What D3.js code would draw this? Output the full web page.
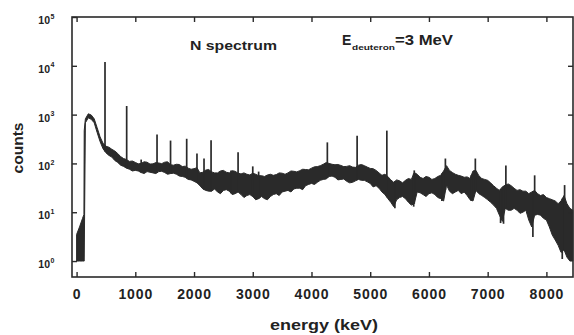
<!DOCTYPE html>
<html>
<head>
<meta charset="utf-8">
<script src="https://cdn.jsdelivr.net/npm/d3@7"></script>
<style>
body{margin:0;background:#fff}
svg{display:block}
text{font-family:"Liberation Sans",Arial,sans-serif;font-weight:bold;fill:#222}
</style>
</head>
<body>
<div id="chart"></div>
<script>
// continuum of the spectrum (keV, counts)
var energy = [0,50,100,125,130,150,200,250,300,350,400,450,500,550,600,
    650,700,750,800,850,900,950,1000,
    1050,1100,1150,1200,1250,1300,1350,1400,1450,1500,1550,1600,1650,1700,1750,1800,1850,1900,1950,2000,
    2050,2100,2150,2200,2250,2300,2350,2400,2450,2500,2550,2600,2650,2700,2750,2800,2850,2900,2950,3000,
    3050,3100,3150,3200,3250,3300,3350,3400,3450,3500,3550,3600,3650,3700,3750,3800,3850,3900,3950,4000,
    4050,4100,4150,4200,4250,4300,4350,4400,4450,4500,4550,4600,4650,4700,4750,4800,4850,4900,4950,5000,
    5050,5100,5150,5200,5250,5300,5350,5400,5450,5500,5550,5600,5650,5700,5750,5800,5850,5900,5950,6000,
    6050,6100,6150,6200,6250,6300,6350,6400,6450,6500,6550,6600,6650,6700,6750,6800,6850,6900,6950,7000,
    7050,7100,7150,7200,7250,7300,7350,7400,7450,7500,7550,7600,7650,7700,7750,7800,7850,7900,7950,8000,
    8050,8100,8150,8200,8250,8300,8350,8400,8450]
// upper and lower edge of the noisy band
var bandHigh = [3.5,5,7.4,9,470,820,1040,980,820,540,350,260,225,215,195,
    180,160,138,126,120,110,112,105,
    98,100,108,106,97,98,104,102,99,106,108,94,92,96,95,86,88,80,76,78,
    82,64,66,73,75,67,64,64,70,72,66,64,71,69,63,61,64,60,58,63,
    60,56,56,54,58,60,57,59,64,63,60,64,70,69,67,71,76,75,74,80,
    85,86,90,96,104,100,96,94,95,91,86,87,90,84,83,92,95,90,84,79,
    78,72,64,57,60,54,46,41,46,44,40,45,49,47,65,60,52,49,54,52,
    47,49,54,57,70,90,72,65,60,57,55,52,53,49,70,72,56,49,47,45,
    40,35,31,28,33,36,38,35,31,28,29,27,27,24,26,28,24,22,23,20,
    19,18,17,15,17,22,15,12,11]
var bandLow = [1,1,1,1,1,680,860,800,680,430,280,200,165,146,135,
    115,105,92,87,80,76,70,72,
    70,65,62,68,66,64,62,68,69,65,60,62,63,60,55,54,52,47,46,43,
    40,35,30,28,27,27,30,26,24,28,29,27,23,24,26,23,20,22,23,21,
    18,19,21,19,18,21,23,24,22,26,27,28,26,30,31,31,29,35,37,39,
    37,41,45,47,48,54,55,52,46,47,48,43,40,41,44,47,45,45,42,39,
    33,35,31,26,23,19,16,13,18,20,21,19,16,14,15,26,25,23,21,24,
    25,23,20,19,17,36,27,24,26,28,24,26,22,18,17,28,24,22,20,18,
    16,14,12,8.7,6.5,12,11,11,12,11,9.5,10,11,6.9,5,8.7,9,8.7,7.5,6.9,
    5,3.4,2.7,2.1,1.5,1.7,1.2,1,1]

// gamma lines sticking out of the continuum
var peakEnergy = [484,853,1100,1370,1600,1875,2050,2170,2290,2630,2750,3000,3100,4270,4777,5283,5750,6280,6790,7310,7800,8310]
var peakTop = [12000,1500,120,390,294,320,160,126,300,72,170,87,68,270,370,470,72,126,126,91,57,36]

// narrow dips below the band
var dipEnergy = [5420,5740,6220,6720,7220,7270,7770,8270]
var dipBottom = [12,13,17,17,6,5.8,3.1,1.1]

var xTicks = [0,1000,2000,3000,4000,5000,6000,7000,8000]
var yTicks = [1,10,100,1000,10000,100000]

var width = 574, height = 335
var ink = '#2a2a2a'

var svg = d3.select('#chart')
    .append('svg')
    .attr('width', width)
    .attr('height', height)

var x = d3.scaleLinear().domain([-78, 8453]).range([72, 573])
var y = d3.scaleLog().domain([Math.pow(10, -0.327), 1e5]).range([277, 17])

// edges at any energy, used as foot of peaks and dips
var lowAt = d3.scaleLinear().domain(energy).range(bandLow)
var highAt = d3.scaleLinear().domain(energy).range(bandHigh)

var band = energy.map(function(e, i){ return {e: e, hi: bandHigh[i], lo: bandLow[i]} })

var area = d3.area()
    .x(function(d){ return x(d.e) })
    .y0(function(d){ return y(d.lo) })
    .y1(function(d){ return y(d.hi) })

svg.append('path')
    .datum(band)
    .attr('d', area)
    .attr('fill', ink)
    .attr('stroke', ink)
    .attr('stroke-width', 1)

svg.selectAll('line.peak')
    .data(peakEnergy)
    .enter()
    .append('line')
    .attr('class', 'peak')
    .attr('x1', function(d){ return x(d) })
    .attr('x2', function(d){ return x(d) })
    .attr('y1', function(d){ return y(lowAt(d)) })
    .attr('y2', function(d, i){ return y(peakTop[i]) })
    .attr('stroke', ink)
    .attr('stroke-width', 1.7)

svg.selectAll('line.dip')
    .data(dipEnergy)
    .enter()
    .append('line')
    .attr('class', 'dip')
    .attr('x1', function(d){ return x(d) })
    .attr('x2', function(d){ return x(d) })
    .attr('y1', function(d){ return y(highAt(d)) })
    .attr('y2', function(d, i){ return y(dipBottom[i]) })
    .attr('stroke', ink)
    .attr('stroke-width', 1.7)

// axes, ticks all point inward
var bottomAxis = svg.append('g')
    .attr('transform', 'translate(0,277)')
    .call(d3.axisBottom(x).tickValues(xTicks).tickSize(-5).tickPadding(12).tickFormat(d3.format('d')))
bottomAxis.select('.domain').remove()
bottomAxis.selectAll('text')
    .style('font-size', '14px')
    .style('letter-spacing', '0.9px')

var topAxis = svg.append('g')
    .attr('transform', 'translate(0,17)')
    .call(d3.axisTop(x).tickValues(xTicks).tickSize(-5).tickFormat(''))
topAxis.select('.domain').remove()

var leftAxis = svg.append('g')
    .attr('transform', 'translate(72,0)')
    .call(d3.axisLeft(y).tickValues(yTicks).tickSize(-5).tickFormat(''))
leftAxis.select('.domain').remove()

var rightAxis = svg.append('g')
    .attr('transform', 'translate(573,0)')
    .call(d3.axisRight(y).tickValues(yTicks.slice(1, 5)).tickSize(-5).tickFormat(''))
rightAxis.select('.domain').remove()

svg.selectAll('.tick line')
    .attr('stroke', ink)
    .attr('stroke-width', 1.4)

svg.append('rect')
    .attr('x', 72)
    .attr('y', 17)
    .attr('width', 501)
    .attr('height', 260)
    .attr('fill', 'none')
    .attr('stroke', ink)
    .attr('stroke-width', 1.6)

// power of ten labels
yTicks.forEach(function(v){
    svg.append('text')
        .attr('x', 50)
        .attr('y', y(v) + 7)
        .attr('text-anchor', 'end')
        .style('font-size', '10.5px')
        .text('10')
    svg.append('text')
        .attr('x', 50.5)
        .attr('y', y(v) + 1.5)
        .style('font-size', '7px')
        .text(Math.round(Math.log10(v)))
})

svg.append('text')
    .attr('x', 324)
    .attr('y', 330)
    .attr('text-anchor', 'middle')
    .attr('textLength', 108)
    .attr('lengthAdjust', 'spacingAndGlyphs')
    .style('font-size', '15px')
    .text('energy (keV)')

svg.append('text')
    .attr('transform', 'translate(23,148) rotate(-90)')
    .attr('text-anchor', 'middle')
    .attr('textLength', 51)
    .attr('lengthAdjust', 'spacingAndGlyphs')
    .style('font-size', '15px')
    .text('counts')

svg.append('text')
    .attr('x', 190)
    .attr('y', 50)
    .attr('textLength', 87)
    .attr('lengthAdjust', 'spacingAndGlyphs')
    .style('font-size', '13px')
    .text('N spectrum')

svg.append('text')
    .attr('x', 342)
    .attr('y', 45)
    .style('font-size', '14px')
    .text('E')
svg.append('text')
    .attr('x', 352)
    .attr('y', 50)
    .attr('textLength', 43)
    .attr('lengthAdjust', 'spacingAndGlyphs')
    .style('font-size', '7px')
    .text('deuteron')
svg.append('text')
    .attr('x', 395)
    .attr('y', 45)
    .attr('textLength', 58)
    .attr('lengthAdjust', 'spacingAndGlyphs')
    .style('font-size', '14px')
    .text('=3 MeV')
</script>
</body>
</html>
